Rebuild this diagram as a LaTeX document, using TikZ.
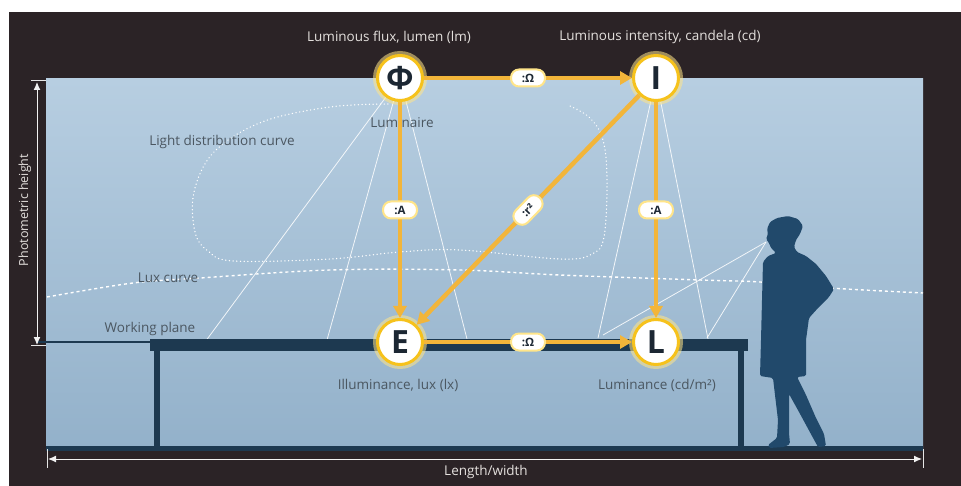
\documentclass[tikz,border=0pt]{standalone}
\usepackage{fontspec}
\setmainfont{Open Sans}
\usetikzlibrary{arrows.meta}

\definecolor{darkbg}{HTML}{2B2326}
\definecolor{paneltop}{HTML}{B7CEE1}
\definecolor{panelbot}{HTML}{93B1CA}
\definecolor{navy}{HTML}{1D3950}
\definecolor{figblue}{HTML}{21496B}
\definecolor{flowc}{HTML}{F2B53A}
\definecolor{ringc}{HTML}{F6C21C}
\definecolor{glowc}{HTML}{FFE58A}
\definecolor{txtdark}{HTML}{4B5761}
\definecolor{txtlight}{HTML}{E4E0DD}
\definecolor{letterc}{HTML}{1C2733}

\pgfdeclarelayer{bg}
\pgfsetlayers{bg,main}

\tikzset{
  qty/.style={circle, minimum size=45pt, inner sep=0pt, fill=white,
    draw=ringc, line width=3pt, text=letterc,
    font=\fontsize{32}{32}\selectfont\bfseries,
    preaction={draw=glowc, line width=9pt, opacity=0.55}},
  flow/.style={draw=flowc, line width=4.5pt,
    -{Triangle[length=12pt,width=13pt]}},
  pill/.style={fill=white, draw=glowc, line width=2pt, rounded corners=8pt,
    minimum width=34pt, minimum height=17pt, inner sep=1pt, text=letterc,
    font=\fontsize{11.5}{11.5}\selectfont\bfseries},
  ray/.style={draw=white, line width=0.8pt, opacity=0.85},
  dotcurve/.style={draw=white, line width=1.4pt, line cap=round,
    dash pattern=on 0.1pt off 3.6pt},
  dashcurve/.style={draw=white, line width=1.4pt, dash pattern=on 3pt off 3pt},
  lighttext/.style={text=txtlight, font=\fontsize{13.5}{15}\selectfont},
  darktext/.style={text=txtdark, font=\fontsize{13.5}{15}\selectfont},
  dim/.style={draw=white!90!gray, line width=1pt,
    {Latex[length=8pt,width=7pt]}-{Latex[length=8pt,width=7pt]}},
  tick/.style={draw=white!80!gray, line width=0.8pt}
}

\begin{document}
\begin{tikzpicture}[x=1pt,y=-1pt]
\useasboundingbox (0,0) rectangle (961,486);

% the four photometric quantities
\node[qty] (phi) at (400,78) {Φ};
\node[qty] (I)   at (656,78) {I};
\node[qty] (E)   at (400,342) {E};
\node[qty] (L)   at (656,342) {L};

% free ends of rays and dimension lines
\coordinate (eye) at (766,242);
\coordinate (p1) at (205,342);
\coordinate (p2) at (327,340);
\coordinate (p3) at (467,339);
\coordinate (p4) at (598,338);
\coordinate (p5) at (708,339);
\coordinate (p6) at (603,335);
\coordinate (p7) at (707,338);
\coordinate (ht) at (37,82);
\coordinate (hb) at (37,345);
\coordinate (wl) at (48,459);
\coordinate (wr) at (922,459);

\begin{pgfonlayer}{bg}
  % frame and room
  \fill[white] (0,0) rectangle (961,486);
  \fill[darkbg] (9,12) rectangle (961,486);
  \shade[top color=paneltop, bottom color=panelbot] (46,79) rectangle (923,449);
  \fill[navy] (46,446) rectangle (923,451);

  % light distribution curve
  \draw[dotcurve] plot[smooth, tension=0.6] coordinates {
    (388,104) (330,107) (262,122) (214,152) (194,192) (195,232) (208,251)
    (234,261) (330,259) (400,252) (460,250) (560,259) (592,254) (604,237)
    (607,180) (603,140) (590,118) (570,106)};

  % lux curve
  \draw[dashcurve] plot[smooth, tension=0.6] coordinates {
    (47,297) (133,283) (200,278) (330,270) (460,270) (560,275) (700,280)
    (760,282) (830,288) (923,293)};

  % light rays
  \draw[ray] (phi) -- (p1);
  \draw[ray] (phi) -- (p2);
  \draw[ray] (phi) -- (p3);
  \draw[ray] (I) -- (p4);
  \draw[ray] (I) -- (p5);
  \draw[ray] (eye) -- (p6);
  \draw[ray] (eye) -- (p7);

  % working plane and table
  \draw[navy, line width=1.2pt] (37,342) -- (150,342);
  \fill[navy] (150,339) rectangle (748,351);
  \fill[navy] (154,351) rectangle (160,448);
  \fill[navy] (738,351) rectangle (744,448);

  % observer
  \fill[figblue, rounded corners=1.5pt]
    (776,253) -- (771,248) -- (769,243) -- (766,239) -- (768,234) -- (767,229)
    -- (770,222) -- (777,218) -- (788,216) -- (798,219) -- (803,226)
    -- (800,234) -- (796,240) -- (794,247) -- (797,252) -- (806,256)
    -- (816,264) -- (826,276) -- (834,289) -- (829,297) -- (818,308)
    -- (809,318) -- (806,340) -- (806,376) -- (797,377) -- (806,395)
    -- (816,418) -- (824,434) -- (826,446) -- (818,447) -- (812,436)
    -- (799,412) -- (789,394) -- (789,415) -- (789,433) -- (790,444)
    -- (784,447) -- (769,448) -- (768,445) -- (777,438) -- (778,420)
    -- (775,395) -- (773,378) -- (760,376) -- (761,340) -- (762,300)
    -- (763,262) -- (768,256) -- cycle;

  % dimension lines
  \draw[dim] (ht) -- (hb);
  \draw[tick] (31,80) -- (46,80);
  \draw[tick] (31,345) -- (46,345);
  \draw[dim] (wl) -- (wr);
  \draw[tick] (47,449) -- (47,468);
  \draw[tick] (923,449) -- (923,468);

  % texts
  \node[lighttext] (tphi) at (389,37) {Luminous flux, lumen (lm)};
  \node[lighttext] (tI) at (660,37) {Luminous intensity, candela (cd)};
  \node[darktext] (tlum) at (402,123) {Luminaire};
  \node[darktext] (tE) at (398,385) {Illuminance, lux (lx)};
  \node[darktext] (tL) at (657,385) {Luminance (cd/m²)};
  \node[darktext] (tldc) at (222,142) {Light distribution curve};
  \node[darktext] (tlux) at (168,278) {Lux curve};
  \node[darktext] (twp) at (150,329) {Working plane};
  \node[lighttext, rotate=90, font=\fontsize{12.5}{14}\selectfont] (tph) at (25,210) {Photometric height};
  \node[lighttext] (tlw) at (486,472) {Length/width};
\end{pgfonlayer}

% relations between the quantities
\draw[flow] (phi) -- (I) node[pill, midway] {:Ω};
\draw[flow] (phi) -- (E) node[pill, midway] {:A};
\draw[flow] (I) -- (L) node[pill, midway] {:A};
\draw[flow] (I) -- (E) node[pill, midway, sloped] {:r²};
\draw[flow] (E) -- (L) node[pill, midway] {:Ω};
\end{tikzpicture}
\end{document}
